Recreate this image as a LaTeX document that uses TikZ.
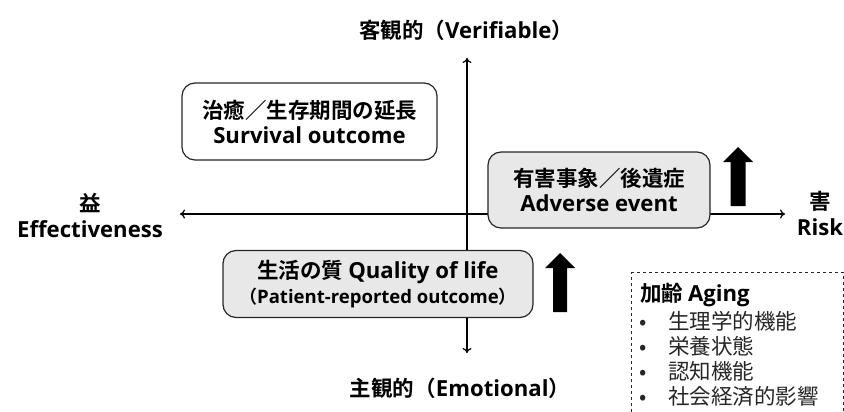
\documentclass[tikz,border=0pt]{standalone}
\usepackage{fontspec}
\setmainfont{Noto Sans CJK JP}[BoldFont={Noto Sans CJK JP Bold}]
\newfontfamily\latf{Open Sans}[BoldFont={Open Sans Bold}, Scale=1.03]
\newcommand\Lt[1]{{\latf #1}}
\usetikzlibrary{arrows.meta}
\definecolor{boxgray}{HTML}{E8E8E8}
\tikzset{
  lbl/.style={font=\bfseries\fontsize{21.5}{26}\selectfont, align=center, inner sep=0pt},
  obox/.style={draw=black!85, line width=1.2pt, rounded corners=13pt, align=center,
    font=\bfseries\fontsize{21.5}{25}\selectfont, inner sep=0pt},
  axis/.style={line width=1.2pt, -{To[length=5pt,width=9pt]}},
  bigarrow/.style={fill=black, draw=none},
  listitem/.style={font=\fontsize{21.5}{25}\selectfont, color=black!85, anchor=west, inner sep=0pt},
}
\begin{document}
\begin{tikzpicture}[x=1pt,y=-1pt]
\useasboundingbox (0,0) rectangle (844,412);
% axes
\coordinate (vtop) at (467,58);
\coordinate (vbot) at (467,353);
\coordinate (hl) at (180,214);
\coordinate (hr) at (785,214);
\coordinate (org) at (467,214);
\draw[axis] (org) -- (vtop);
\draw[axis] (org) -- (vbot);
\draw[axis] (org) -- (hl);
\draw[axis] (org) -- (hr);
% labels
\node[lbl] (top) at (466,30) {客観的（\Lt{Verifiable}）};
\node[lbl] (bot) at (460,388) {主観的（\Lt{Emotional}）};
\node[lbl] (left) at (90,215) {益\\\Lt{Effectiveness}};
\node[lbl] (right) at (820,213) {害\\\Lt{Risk}};
% boxes
\node[obox, fill=white, minimum width=255pt, minimum height=77pt] (surv) at (309.5,121.5)
  {治癒／生存期間の延長\\\Lt{Survival outcome}};
\node[obox, fill=boxgray, minimum width=222pt, minimum height=76pt] (ae) at (599,190)
  {有害事象／後遺症\\\Lt{Adverse event}};
\node[obox, fill=boxgray, minimum width=310pt, minimum height=67pt] (qol) at (378,284)
  {生活の質 \Lt{Quality of life}\\{\fontsize{18}{24}\selectfont （\Lt{Patient-reported outcome}）}};
% thick arrows
\fill[bigarrow] (738,147) -- (753,162) -- (745.5,162) -- (745.5,206) -- (730.5,206) -- (730.5,162) -- (723,162) -- cycle;
\fill[bigarrow] (560,253) -- (575,268) -- (567,268) -- (567,312) -- (553,312) -- (553,268) -- (545,268) -- cycle;
% aging box
\node[draw=black!85, dashed, line width=1pt, minimum width=212pt, minimum height=160pt, anchor=north west, inner sep=0pt] (agebox) at (631,272) {};
\node[font=\bfseries\fontsize{21.5}{25}\selectfont, anchor=west, inner sep=0pt] (agetitle) at (640,295) {加齢 \Lt{Aging}};
\node[listitem] (a1) at (639,321) {\makebox[29pt][l]{•}生理学的機能};
\node[listitem] (a2) at (639,346) {\makebox[29pt][l]{•}栄養状態};
\node[listitem] (a3) at (639,371) {\makebox[29pt][l]{•}認知機能};
\node[listitem] (a4) at (639,396) {\makebox[29pt][l]{•}社会経済的影響};
\end{tikzpicture}
\end{document}
